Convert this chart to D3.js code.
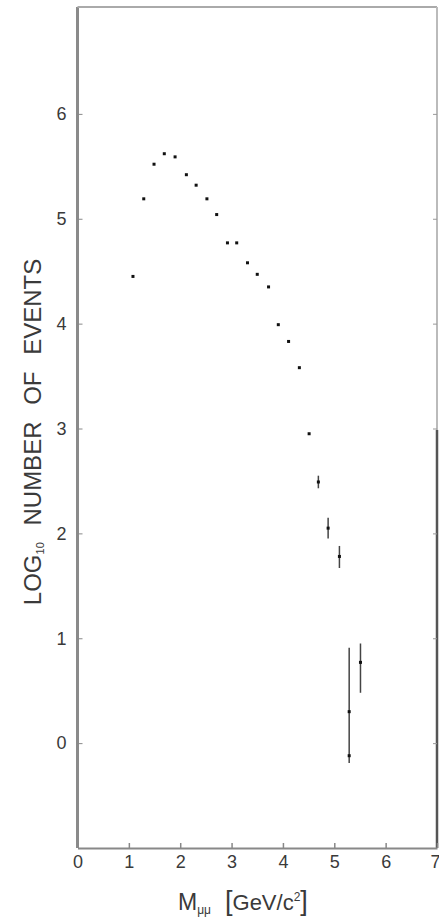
<!DOCTYPE html>
<html>
<head>
<meta charset="utf-8">
<script src="https://cdn.jsdelivr.net/npm/d3@7"></script>
<style>
  body { margin: 0; background: #fff; }
  svg text { font-family: "Liberation Sans", Arial, sans-serif; fill: #3a3a3a; }
</style>
</head>
<body>
<script>
// values
var mass  = [1.08, 1.29, 1.49, 1.69, 1.90, 2.12, 2.31, 2.52, 2.71, 2.92, 3.10, 3.31,
             3.50, 3.72, 3.91, 4.11, 4.32, 4.51, 4.69, 4.88, 5.10, 5.29, 5.29, 5.51]
var logN  = [4.45, 5.19, 5.52, 5.62, 5.59, 5.42, 5.32, 5.19, 5.04, 4.77, 4.77, 4.58,
             4.47, 4.35, 3.99, 3.83, 3.58, 2.95, 2.49, 2.05, 1.78, 0.30, -0.12, 0.77]
var errUp = [0, 0, 0, 0, 0, 0, 0, 0, 0, 0, 0, 0,
             0, 0, 0, 0, 0, 0, 0.06, 0.10, 0.10, 0.61, 0, 0.18]
var errDn = [0, 0, 0, 0, 0, 0, 0, 0, 0, 0, 0, 0,
             0, 0, 0, 0, 0, 0, 0.06, 0.10, 0.11, 0.42, 0.07, 0.29]
var xTicks = [0, 1, 2, 3, 4, 5, 6, 7]
var yTicks = [0, 1, 2, 3, 4, 5, 6]

var W = 439, H = 920

var svg = d3.select('body').append('svg')
  .attr('width', W)
  .attr('height', H)

var x = d3.scaleLinear().domain([0, 7]).range([77.5, 437])
var y = d3.scaleLinear().domain([-1, 7]).range([848, 9])

// frame
svg.append('line').attr('x1', x(0)).attr('x2', x(0)).attr('y1', 7).attr('y2', y(-1))
  .attr('stroke', '#8a8a8a').attr('stroke-width', 3)
svg.append('line').attr('x1', x(0)).attr('x2', x(7)).attr('y1', 7).attr('y2', 7)
  .attr('stroke', '#aaa').attr('stroke-width', 2)
svg.append('line').attr('x1', x(7)).attr('x2', x(7)).attr('y1', 7).attr('y2', 430)
  .attr('stroke', '#bbb').attr('stroke-width', 2)
svg.append('line').attr('x1', x(7)).attr('x2', x(7)).attr('y1', 430).attr('y2', y(-1))
  .attr('stroke', '#555').attr('stroke-width', 2.5)

var yAxis = svg.append('g')
  .attr('transform', 'translate(' + x(0) + ',0)')
  .call(d3.axisLeft(y).tickValues(yTicks).tickSizeInner(-5).tickSizeOuter(0).tickPadding(11).tickFormat(d3.format('d')))
yAxis.select('.domain').remove()
yAxis.selectAll('line').attr('stroke', '#888')
yAxis.selectAll('text').attr('font-size', 18).style('font-family', '"Liberation Sans", Arial, sans-serif').attr('fill', '#3a3a3a')

var yRight = svg.append('g')
  .attr('transform', 'translate(' + x(7) + ',0)')
  .call(d3.axisRight(y).tickValues(yTicks).tickSizeInner(-4).tickSizeOuter(0).tickFormat(''))
yRight.select('.domain').remove()
yRight.selectAll('line').attr('stroke', '#999')

var xAxis = svg.append('g')
  .attr('transform', 'translate(0,' + y(-1) + ')')
  .call(d3.axisBottom(x).tickValues(xTicks).tickSizeInner(-5).tickSizeOuter(0).tickPadding(7).tickFormat(d3.format('d')))
xAxis.select('.domain').attr('stroke', '#888').attr('stroke-width', 2)
xAxis.selectAll('line').attr('stroke', '#888').attr('stroke-width', 1.5)
xAxis.selectAll('text').attr('font-size', 18).style('font-family', '"Liberation Sans", Arial, sans-serif').attr('fill', '#3a3a3a')
// the last label sits on the page edge in the scan; keep it whole
xAxis.selectAll('.tick text').filter(function(d) { return d === 7 }).attr('text-anchor', 'end').attr('dx', 3)

// points
var pts = mass.map(function(m, i) {
  return { m: m, v: logN[i], up: errUp[i], dn: errDn[i] }
})

svg.append('g').selectAll('line')
  .data(pts.filter(function(d) { return d.up > 0 || d.dn > 0 }))
  .enter()
  .append('line')
  .attr('x1', function(d) { return x(d.m) })
  .attr('x2', function(d) { return x(d.m) })
  .attr('y1', function(d) { return y(d.v + d.up) })
  .attr('y2', function(d) { return y(d.v - d.dn) })
  .attr('stroke', '#444')
  .attr('stroke-width', 1.5)

svg.append('g').selectAll('rect')
  .data(pts)
  .enter()
  .append('rect')
  .attr('x', function(d) { return x(d.m) - 1.5 })
  .attr('y', function(d) { return y(d.v) - 1.5 })
  .attr('width', 3)
  .attr('height', 3)
  .attr('fill', '#111')

// axis titles
var yl = svg.append('text')
  .attr('transform', 'translate(41,432) rotate(-90)')
  .attr('text-anchor', 'middle')
  .attr('font-size', 24)
  .style('word-spacing', '10px')
yl.append('tspan').text('LOG')
yl.append('tspan').attr('font-size', 11).attr('dy', 3).text('10')
yl.append('tspan').attr('dy', -3).text(' NUMBER OF EVENTS')

var xl = svg.append('text')
  .attr('x', 178)
  .attr('y', 910)
  .attr('font-size', 23)
xl.append('tspan').text('M')
xl.append('tspan').attr('font-size', 12).attr('dy', 4).text('\u03bc\u03bc')
xl.append('tspan').attr('dy', -4).attr('dx', 14).attr('font-size', 27).text('[')
xl.append('tspan').attr('font-size', 22).text('GeV/c')
xl.append('tspan').attr('font-size', 12).attr('dy', -9).text('2')
xl.append('tspan').attr('dy', 9).attr('font-size', 27).text(']')
</script>
</body>
</html>
